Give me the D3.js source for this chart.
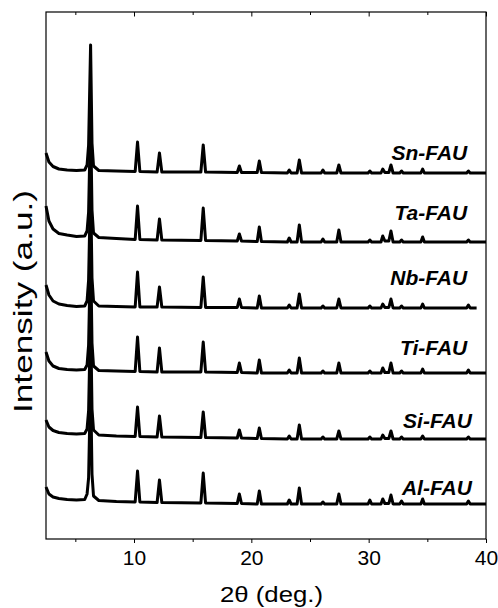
<!DOCTYPE html>
<html>
<head>
<meta charset="utf-8">
<script src="https://cdn.jsdelivr.net/npm/d3@7"></script>
<style>
  body { margin: 0; background: #fff; }
  text { font-family: "Liberation Sans", Arial, sans-serif; fill: #000; }
</style>
</head>
<body>
<div id="xrd"></div>
<script>

// XRD patterns of the M-FAU samples, stacked

const width = 498;
const height = 608;
const margin = { top: 12, right: 12, bottom: 69, left: 46 };

// sample names, top to bottom
const samples = ["Sn-FAU", "Ta-FAU", "Nb-FAU", "Ti-FAU", "Si-FAU", "Al-FAU"];

// vertical offset of each pattern (a.u.)
const offsets = [366, 297, 231, 166, 100, 35];

// where the name sits (2theta of right end, a.u. of baseline)
const labelX = [38.4, 38.4, 38.4, 38.4, 38.8, 38.8];
const labelY = [379, 319, 254, 184, 111, 44];

// 2theta (deg.) of the vertices
const twoTheta = [
  2.5, 2.75, 3.1, 3.6, 4.3, 5.1, 5.8, 6.0, 6.13, 6.3, 6.42, 6.55, 7.0, 8.5,
  10.1, 10.3, 10.5,
  11.97, 12.17, 12.37,
  15.7, 15.9, 16.1,
  18.8, 18.98, 19.16,
  20.5, 20.68, 20.86,
  23.07, 23.23, 23.39,
  23.9, 24.09, 24.28,
  25.95, 26.1, 26.25,
  27.28, 27.46, 27.64,
  29.95, 30.1, 30.25,
  31.05, 31.2, 31.38,
  31.72, 31.9, 32.08,
  32.65, 32.8, 32.95,
  34.45, 34.6, 34.75,
  38.35, 38.5, 38.65,
  39.2, 40.0
];

// intensity (a.u.) above each pattern's own baseline
const snFAU = [
  20, 11, 6.5, 4, 3, 2.5, 3, 8, 28, 128, 30, 7, 2.5, 2,
  1.5, 31, 1.5,  1, 20, 1,  1, 28, 1,  0.5, 7, 0.5,  0.5, 12, 0.5,
  0, 3, 0,  0, 13, 0,  0, 3, 0,  0, 8, 0,  0, 2, 0,
  0, 4, 0.5,  0.5, 8, 0,  0, 2, 0,  0, 4, 0,  0, 2, 0,
  0, 0
];
const taFAU = [
  36, 21, 13, 8.5, 7, 5.5, 6, 11, 30, 125, 32, 9, 4.5, 3.5,
  2.5, 36, 2.5,  2, 23, 2,  1.5, 34, 1.5,  1, 8, 1,  0.5, 15, 0.5,
  0, 4, 0,  0, 17, 0,  0, 3, 0,  0, 12, 0,  0, 2, 0,
  0, 6, 1,  1, 11, 0,  0, 2, 0,  0, 5, 0,  0, 2, 0,
  0, 0
];
const nbFAU = [
  23, 13, 7, 4, 2.5, 1.5, 2, 7, 28, 125, 30, 7, 2, 1.5,
  1, 36, 1,  1, 21, 1,  0.5, 31, 0.5,  0.5, 9, 0.5,  0, 12, 0,
  0, 3, 0,  0, 14, 0,  0, 2, 0,  0, 9, 0,  0, 2, 0,
  0, 4, 0.5,  0.5, 9, 0,  0, 2, 0,  0, 4, 0,  0, 3, 0,
  0, null
];
const tiFAU = [
  21, 12, 7, 4.5, 3.5, 3, 3.5, 8, 28, 125, 30, 7, 2.5, 2,
  1.5, 36, 1.5,  1, 25, 1,  1, 31, 1,  0.5, 10, 0.5,  0, 13, 0,
  0, 3, 0,  0, 15, 0,  0, 2, 0,  0, 10, 0,  0, 2, 0,
  0, 5, 0.5,  0.5, 10, 0,  0, 2, 0,  0, 4, 0,  0, 3, 0,
  0, 0
];
const siFAU = [
  19, 12, 8.5, 6.5, 5.5, 5, 5.5, 10, 28, 125, 30, 9, 4, 3,
  2.5, 32, 2.5,  2, 23, 2,  1.5, 27, 1.5,  1, 9, 1,  0.5, 11, 0.5,
  0, 3, 0,  0, 14, 0,  0, 2, 0,  0, 8, 0,  0, 2, 0,
  0, 4, 0.5,  0.5, 8, 0,  0, 2, 0,  0, 3, 0,  0, 2, 0,
  0, 0
];
const alFAU = [
  17, 10, 7, 5.5, 4.5, 4, 4.5, 10, 26, 125, 30, 8, 3.5, 2.5,
  2, 33, 2,  1.5, 24, 1.5,  1, 31, 1,  0.5, 10, 0.5,  0, 13, 0,
  0, 4, 0,  0, 16, 0,  0, 2, 0,  0, 10, 0,  0, 4, 0,
  0, 5, 0.5,  0.5, 9, 0,  0, 3, 0,  0, 5, 0,  0, 3, 0,
  0, 0
];
const patterns = [snFAU, taFAU, nbFAU, tiFAU, siFAU, alFAU];

// x axis ticks
const majorTicks = [10, 20, 30, 40];
const minorTicks = [5, 15, 25, 35];

const svg = d3.select("#xrd")
  .append("svg")
  .attr("width", width)
  .attr("height", height);

const xScale = d3.scaleLinear()
  .domain([2.5, 40])
  .range([margin.left, width - margin.right]);

const yScale = d3.scaleLinear()
  .domain([0, 527])
  .range([height - margin.bottom, margin.top]);

const yBottom = height - margin.bottom;

// bottom axis, ticks pointing out
svg.append("g")
  .attr("transform", `translate(0,${yBottom})`)
  .call(d3.axisBottom(xScale).tickValues(minorTicks).tickSize(3).tickFormat(""))
  .call(g => g.select(".domain").remove());

svg.append("g")
  .attr("class", "xaxis")
  .attr("transform", `translate(0,${yBottom})`)
  .call(d3.axisBottom(xScale).tickValues(majorTicks).tickSize(4).tickPadding(7).tickFormat(d3.format("d")))
  .call(g => g.select(".domain").remove())
  .selectAll("text")
    .attr("font-size", "21px")
    .attr("font-family", "'Liberation Sans', Arial, sans-serif");

// top axis, ticks pointing in
svg.append("g")
  .attr("transform", `translate(0,${margin.top})`)
  .call(d3.axisBottom(xScale).tickValues(minorTicks).tickSize(3).tickFormat(""))
  .call(g => g.select(".domain").remove());

svg.append("g")
  .attr("transform", `translate(0,${margin.top})`)
  .call(d3.axisBottom(xScale).tickValues(majorTicks).tickSize(4.5).tickFormat(""))
  .call(g => g.select(".domain").remove());

svg.selectAll(".tick line").attr("stroke", "#000").attr("stroke-width", 1);

// frame
svg.append("rect")
  .attr("x", margin.left)
  .attr("y", margin.top)
  .attr("width", width - margin.left - margin.right)
  .attr("height", yBottom - margin.top)
  .attr("fill", "none")
  .attr("stroke", "#000")
  .attr("stroke-width", 1.2);

// the patterns
const line = d3.line()
  .defined(d => d[1] !== null)
  .x(d => xScale(d[0]))
  .y(d => yScale(d[1]));

patterns.forEach((vals, i) => {
  const pts = twoTheta.map((t, j) => [t, vals[j] === null ? null : vals[j] + offsets[i]]);
  svg.append("path")
    .datum(pts)
    .attr("d", line)
    .attr("fill", "none")
    .attr("stroke", "#000")
    .attr("stroke-width", 3)
    .attr("stroke-linejoin", "round");
});

// sample names
svg.selectAll(".name")
  .data(samples)
  .enter()
  .append("text")
    .attr("class", "name")
    .attr("x", (d, i) => xScale(labelX[i]))
    .attr("y", (d, i) => yScale(labelY[i]))
    .attr("text-anchor", "end")
    .attr("font-size", "21px")
    .attr("font-weight", "bold")
    .attr("font-style", "italic")
    .text(d => d);

// axis titles
svg.append("text")
  .attr("x", 271.5)
  .attr("y", 602)
  .attr("text-anchor", "middle")
  .attr("font-size", "22.5px")
  .attr("textLength", 103)
  .attr("lengthAdjust", "spacingAndGlyphs")
  .text("2θ (deg.)");

svg.append("text")
  .attr("transform", "translate(31.5,301.5) rotate(-90)")
  .attr("text-anchor", "middle")
  .attr("font-size", "25px")
  .attr("textLength", 223)
  .attr("lengthAdjust", "spacingAndGlyphs")
  .text("Intensity (a.u.)");

</script>
</body>
</html>
